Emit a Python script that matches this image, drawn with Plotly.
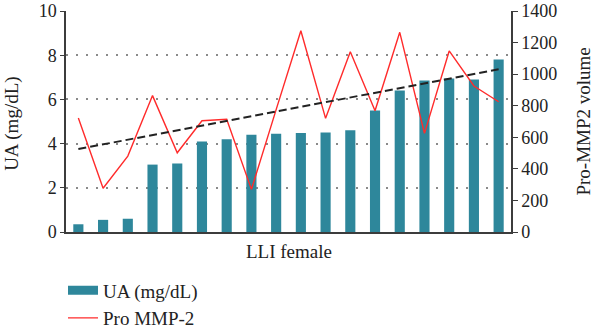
import numpy as np
import plotly.graph_objects as go

# Subjects (LLI female), ordered by uric acid level
subjects = list(range(1, 19))

# Uric acid per subject (mg/dL)
ua_values = [0.35, 0.55, 0.6, 3.05, 3.1, 4.1, 4.2, 4.4, 4.45,
             4.48, 4.5, 4.6, 5.5, 6.4, 6.85, 6.95, 6.9, 7.8]

# Pro MMP-2 volume per subject
mmp2_values = [722, 277, 481, 864, 502, 705, 714, 270, 775,
               1275, 720, 1142, 768, 1265, 625, 1147, 925, 825]

left_ticks = [0, 2, 4, 6, 8, 10]
right_ticks = [0, 200, 400, 600, 800, 1000, 1200, 1400]

TEAL = "#2E879B"
RED = "#FF2B2B"
TEXT = "#222222"
AXIS = "#3C3C3C"
FONT = "Liberation Serif"

x = np.arange(len(subjects))

# Linear trend of the Pro MMP-2 series
slope, intercept = np.polyfit(x, mmp2_values, 1)
trend = slope * x + intercept

fig = go.Figure()

fig.add_trace(go.Bar(
    x=x, y=ua_values, name="UA (mg/dL)", marker=dict(color=TEAL, line_width=0),
    width=0.41, showlegend=False, yaxis="y"))

fig.add_trace(go.Scatter(
    x=x, y=mmp2_values, name="Pro MMP-2", mode="lines",
    line=dict(color=RED, width=1.4), yaxis="y2", showlegend=False))

fig.add_trace(go.Scatter(
    x=[x[0], x[-1]], y=[trend[0], trend[-1]], mode="lines",
    line=dict(color="#222222", width=2, dash="8px,4px"),
    yaxis="y2", showlegend=False, hoverinfo="skip"))

# Legend entries: wide teal block for the bars, thin red line for the series
fig.add_trace(go.Scatter(
    x=[None], y=[None], mode="lines", name="UA (mg/dL)",
    line=dict(color=TEAL, width=9), yaxis="y"))
fig.add_trace(go.Scatter(
    x=[None], y=[None], mode="lines", name="Pro MMP-2",
    line=dict(color=RED, width=1.4), yaxis="y"))

title_font = dict(family=FONT, size=19, color=TEXT)

fig.update_layout(
    width=600, height=335,
    margin=dict(l=66, r=89, t=11, b=103, autoexpand=False),
    paper_bgcolor="white", plot_bgcolor="white",
    font=dict(family=FONT, size=18, color=TEXT),
    showlegend=True,
    legend=dict(x=0.105, y=0.19, xref="container", yref="container",
                xanchor="left", yanchor="top",
                bgcolor="rgba(0,0,0,0)", font=dict(size=19, family=FONT, color=TEXT),
                tracegroupgap=0, itemwidth=30),
    xaxis=dict(range=[-0.5, len(subjects) - 0.5], showticklabels=False,
               showgrid=False, zeroline=False, showline=True, linecolor=AXIS,
               linewidth=1.5, ticks="", automargin=False),
    yaxis=dict(range=[0, 10], tickvals=left_ticks, ticks="outside", ticklen=4,
               tickcolor=AXIS, showline=True, linecolor=AXIS, linewidth=1.5,
               showgrid=True, gridcolor="#8A8A8A", gridwidth=1.5, griddash="2px,8px",
               zeroline=False, tickfont=dict(size=18), automargin=False),
    yaxis2=dict(range=[0, 1400], tickvals=right_ticks, overlaying="y", side="right",
                ticks="outside", ticklen=5, tickcolor=AXIS, showline=True,
                linecolor=AXIS, linewidth=1.5, showgrid=False, zeroline=False,
                tickfont=dict(size=18), automargin=False),
    annotations=[
        dict(text="UA (mg/dL)", xref="paper", yref="paper", x=-0.121, y=0.49,
             textangle=-90, showarrow=False, xanchor="center", yanchor="middle",
             font=title_font),
        dict(text="Pro-MMP2 volume", xref="paper", yref="paper", x=1.162, y=0.5,
             textangle=-90, showarrow=False, xanchor="center", yanchor="middle",
             font=title_font),
        dict(text="LLI female", xref="paper", yref="paper", x=0.5, y=-0.09,
             showarrow=False, xanchor="center", yanchor="middle", font=title_font),
    ],
)

fig.write_html("out.html")
